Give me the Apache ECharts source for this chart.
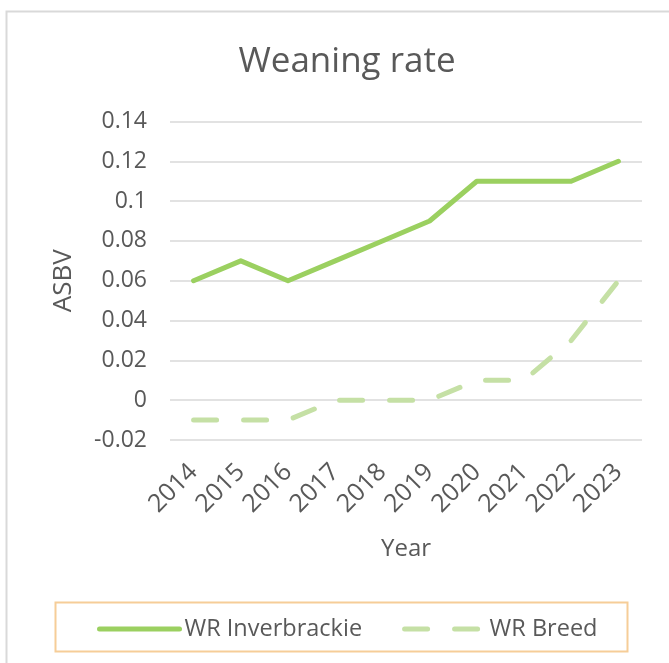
<!DOCTYPE html>
<html>
<head>
<meta charset="utf-8">
<script src="https://cdn.jsdelivr.net/npm/echarts@6/dist/echarts.min.js"></script>
<style>
html,body{margin:0;padding:0;background:#fff;}
#chart{width:669px;height:663px;}
</style>
</head>
<body>
<div id="chart"></div>
<script>
const years = ['2014','2015','2016','2017','2018','2019','2020','2021','2022','2023'];
const inverbrackie = [0.06, 0.07, 0.06, 0.07, 0.08, 0.09, 0.11, 0.11, 0.11, 0.12];
const breed = [-0.01, -0.01, -0.01, 0, 0, 0, 0.01, 0.01, 0.03, 0.06];
const seriesNames = ['WR Inverbrackie', 'WR Breed'];

const FONT = 'Open Sans';
const TXT = '#595959';
const chart = echarts.init(document.getElementById('chart'));
chart.setOption({
  animation: false,
  backgroundColor: '#fff',
  title: {
    text: 'Weaning rate',
    left: 342,
    textAlign: 'center',
    top: 40,
    textStyle: {fontFamily: FONT, fontSize: 35, fontWeight: 'normal', color: TXT}
  },
  graphic: [
    {type: 'rect', shape: {x: 6.5, y: 11.5, width: 700, height: 700},
     style: {fill: null, stroke: '#D9D9D9', lineWidth: 2}, silent: true, z: -1},
    {type: 'rect', shape: {x: 55.5, y: 602.5, width: 572, height: 49},
     style: {fill: null, stroke: '#F6CD98', lineWidth: 2}, silent: true}
  ],
  legend: {
    left: 92,
    top: 612,
    itemWidth: 80,
    itemHeight: 10,
    itemGap: 40,
    itemStyle: {opacity: 0},
    lineStyle: {width: 5, cap: 'round'},
    textStyle: {fontFamily: FONT, fontSize: 23.5, color: TXT},
    data: seriesNames
  },
  grid: {left: 170, right: 27, top: 121.5, bottom: 223},
  xAxis: {
    type: 'category',
    data: years,
    boundaryGap: true,
    name: 'Year',
    nameLocation: 'middle',
    nameGap: 97,
    nameTextStyle: {fontFamily: FONT, fontSize: 24, color: TXT},
    axisLine: {show: false},
    axisTick: {show: false},
    axisLabel: {rotate: 45, margin: 28, fontFamily: FONT, fontSize: 25, color: TXT, interval: 0}
  },
  yAxis: {
    type: 'value',
    min: -0.02,
    max: 0.14,
    interval: 0.02,
    name: 'ASBV',
    nameLocation: 'middle',
    nameGap: 93,
    nameTextStyle: {fontFamily: FONT, fontSize: 26, color: TXT},
    axisLine: {show: false},
    axisTick: {show: false},
    splitLine: {lineStyle: {color: '#D9D9D9', width: 1.5}},
    axisLabel: {margin: 23, fontFamily: FONT, fontSize: 23, color: TXT,
      formatter: v => String(+v.toFixed(2))}
  },
  series: [
    {name: seriesNames[0], type: 'line', data: inverbrackie, symbol: 'none',
     lineStyle: {color: '#9BD060', width: 5, cap: 'round', join: 'round'},
     itemStyle: {color: '#9BD060'}},
    {name: seriesNames[1], type: 'line', data: breed, symbol: 'none',
     lineStyle: {color: '#C5E0A5', width: 5, type: [23, 27], cap: 'round', join: 'round'},
     itemStyle: {color: '#C5E0A5'}}
  ]
});
</script>
</body>
</html>
